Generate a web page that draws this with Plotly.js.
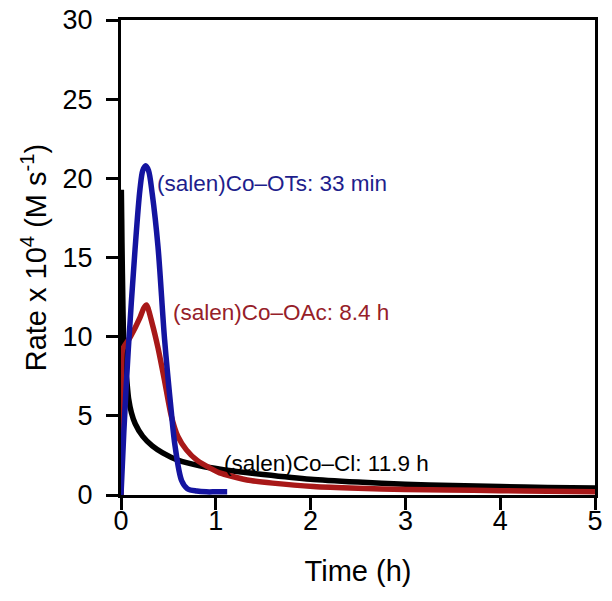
<!DOCTYPE html>
<html>
<head>
<meta charset="utf-8">
<script src="https://cdn.plot.ly/plotly-3.0.1.min.js"></script>
<style>html,body{margin:0;padding:0;background:#fff;}#chart{width:612px;height:601px;}</style>
</head>
<body>
<div id="chart"></div>
<script>
// Time (h) and rate x 10^4 (M s^-1) for each catalyst
const clTime = [0, 0.004, 0.01, 0.02, 0.03, 0.045, 0.06, 0.08, 0.11, 0.15, 0.23, 0.33, 0.44, 0.6, 0.83, 1.08, 1.5, 2.0, 2.5, 3.0, 3.5, 4.0, 4.5, 5.0];
const clRate = [0, 19.1, 16, 12, 9.4, 8.0, 7.3, 6.1, 5.2, 4.5, 3.7, 3.1, 2.66, 2.2, 1.85, 1.6, 1.3, 1.0, 0.82, 0.68, 0.6, 0.53, 0.48, 0.44];

const oacTime = [0, 0.012, 0.025, 0.1, 0.2, 0.24, 0.27, 0.33, 0.39, 0.46, 0.53, 0.6, 0.69, 0.8, 0.97, 1.04, 1.33, 1.6, 2.03, 2.5, 3.0, 3.44, 4.0, 4.5, 5.0];
const oacRate = [0, 9.0, 9.3, 10.0, 11.2, 11.8, 12.0, 10.8, 9.3, 7.2, 5.0, 3.7, 2.85, 2.2, 1.6, 1.4, 0.95, 0.75, 0.53, 0.42, 0.35, 0.32, 0.27, 0.24, 0.21];

const otsTime = [0, 0.03, 0.077, 0.148, 0.2, 0.23, 0.26, 0.29, 0.33, 0.39, 0.46, 0.53, 0.57, 0.64, 0.7, 0.8, 0.9, 1.0, 1.12];
const otsRate = [0, 4.0, 9.2, 15.5, 19.3, 20.5, 20.8, 20.5, 19.0, 15.7, 9.8, 5.3, 3.1, 0.9, 0.4, 0.25, 0.2, 0.2, 0.2];

const labels = ["(salen)Co–OTs: 33 min", "(salen)Co–OAc: 8.4 h", "(salen)Co–Cl: 11.9 h"];
const labelX = [0.36, 0.53, 1.07];
const labelY = [19.7, 11.5, 2.0];

const xTicks = [0, 1, 2, 3, 4, 5];
const yTicks = [0, 5, 10, 15, 20, 25, 30];

const FONT = "Liberation Sans, Arial, sans-serif";
const blue = "#1414a0", red = "#a81818", black = "#000000";

const traces = [
  {x: clTime, y: clRate, mode: "lines", line: {color: black, width: 5.5, shape: "spline", smoothing: 0.6}, hoverinfo: "skip"},
  {x: oacTime, y: oacRate, mode: "lines", line: {color: red, width: 5.5, shape: "spline", smoothing: 0.6}, hoverinfo: "skip"},
  {x: otsTime, y: otsRate, mode: "lines", line: {color: blue, width: 5.5, shape: "spline", smoothing: 0.9}, hoverinfo: "skip"}
];

const labelColors = ["#1e1e8c", "#962028", "#000000"];
const annotations = labels.map((t, i) => ({
  x: labelX[i], y: labelY[i], xref: "x", yref: "y", text: t, showarrow: false,
  xanchor: "left", yanchor: "middle", font: {family: FONT, size: 22.5, color: labelColors[i]}
}));

const layout = {
  width: 612, height: 601,
  margin: {l: 121, r: 17, t: 20, b: 106},
  paper_bgcolor: "#fff", plot_bgcolor: "#fff",
  showlegend: false,
  font: {family: FONT, color: "#000"},
  xaxis: {
    range: [0, 5], tickvals: xTicks, ticktext: xTicks.map(String),
    showgrid: false, zeroline: false, showline: true, linecolor: "#000", linewidth: 3, mirror: true,
    ticks: "outside", ticklen: 12, tickwidth: 3, tickcolor: "#000",
    tickfont: {family: FONT, size: 27, color: "#000"}, ticklabelstandoff: -12,
    title: {text: "Time (h)", font: {family: FONT, size: 29, color: "#000"}, standoff: 26}
  },
  yaxis: {
    range: [0, 30], tickvals: yTicks, ticktext: yTicks.map(String),
    showgrid: false, zeroline: false, showline: true, linecolor: "#000", linewidth: 3, mirror: true,
    ticks: "outside", ticklen: 12, tickwidth: 3, tickcolor: "#000",
    tickfont: {family: FONT, size: 27, color: "#000"}, ticklabelstandoff: 8,
    title: {text: "Rate x 10<sup>4</sup> (M s<sup>-1</sup>)", font: {family: FONT, size: 29, color: "#000"}, standoff: 8}
  },
  annotations: annotations
};

Plotly.newPlot("chart", traces, layout, {displayModeBar: false, staticPlot: true});
</script>
</body>
</html>
